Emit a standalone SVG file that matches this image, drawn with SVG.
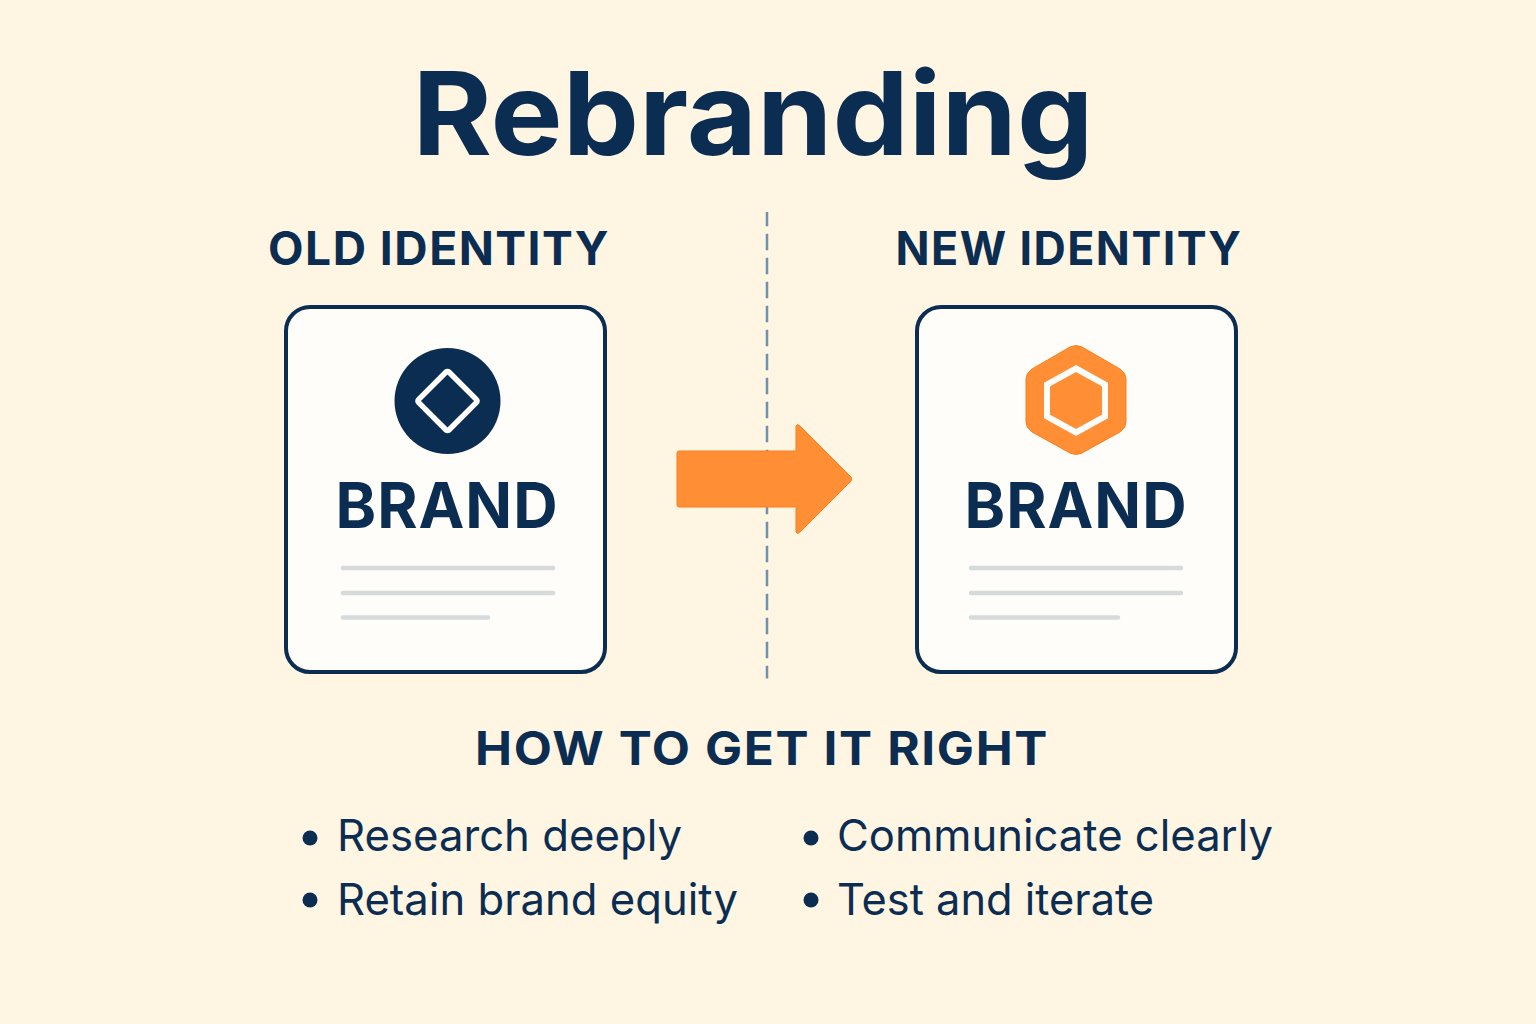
<svg xmlns="http://www.w3.org/2000/svg" width="1536" height="1024" viewBox="0 0 1536 1024">
<style>
text{font-family:Inter,"Noto Sans","Liberation Sans",sans-serif;fill:#0c2d52}
.title{font-size:116px;font-weight:700}
.head{font-size:46px;font-weight:700;letter-spacing:1.5px}
.brand{font-size:63px;font-weight:700;letter-spacing:1px}
.item{font-size:44px;font-weight:400}
.card{fill:#fffdf9;stroke:#0c2d52;stroke-width:4}
.ln{stroke:#d5dadb;stroke-width:4.5;stroke-linecap:round}
.dot{fill:#0c2d52}
</style>
<rect id="background" width="1536" height="1024" fill="#fff5e3"/>
<text id="title" class="title" x="753" y="155" text-anchor="middle" textLength="681" lengthAdjust="spacingAndGlyphs">Rebranding</text>
<g id="connectors">
<line id="divider" x1="767" y1="212" x2="767" y2="678.500" stroke="#7290b0" stroke-width="2.500" stroke-dasharray="16.500 7.500" stroke-dashoffset="2.300"/>
<path id="arrow" d="M679 451H796V426Q797 423 800 426L851 477Q852 479 851 481L800 532Q797 535 796 532V507H679Q677 507 677 505V453Q677 451 679 451Z" fill="#ff8e34" stroke="#fb7f1e" stroke-width="1"/>
</g>
<g id="old-identity">
<text class="head" x="439" y="265" text-anchor="middle" textLength="342" lengthAdjust="spacingAndGlyphs">OLD IDENTITY</text>
<rect class="card" x="286" y="307" width="319" height="365" rx="24"/>
<circle cx="447.500" cy="401" r="53" fill="#0c2d52"/>
<rect x="426" y="379.500" width="43" height="43" rx="2" transform="rotate(45 447.500 401)" fill="none" stroke="#fffdf9" stroke-width="5.500"/>
<text class="brand" x="447" y="528" text-anchor="middle" textLength="223" lengthAdjust="spacingAndGlyphs">BRAND</text>
<line class="ln" x1="343" y1="568" x2="553" y2="568"/>
<line class="ln" x1="343" y1="593" x2="553" y2="593"/>
<line class="ln" x1="343" y1="617.500" x2="488" y2="617.500"/>
</g>
<g id="new-identity">
<text class="head" x="1069" y="265" text-anchor="middle" textLength="347" lengthAdjust="spacingAndGlyphs">NEW IDENTITY</text>
<rect class="card" x="917" y="307" width="319" height="365" rx="24"/>
<path d="M1070 347Q1076 344 1082 347L1120 369Q1126 373 1126 379V422Q1126 428 1120 432L1082 453Q1076 456 1070 453L1032 432Q1026 428 1026 422V379Q1026 373 1032 369Z" fill="#ff8e34" stroke="#fb7f1e" stroke-width="1"/>
<path d="M1076 368.500L1105 384.500V416.500L1076 432.500L1047 416.500V384.500Z" fill="#ff8e34" stroke="#fffdf9" stroke-width="6"/>
<text class="brand" x="1076" y="528" text-anchor="middle" textLength="223" lengthAdjust="spacingAndGlyphs">BRAND</text>
<line class="ln" x1="971" y1="568" x2="1181" y2="568"/>
<line class="ln" x1="971" y1="593" x2="1181" y2="593"/>
<line class="ln" x1="971" y1="617.500" x2="1118" y2="617.500"/>
</g>
<g id="tips">
<text class="head" x="762" y="765" text-anchor="middle" textLength="574" lengthAdjust="spacingAndGlyphs">HOW TO GET IT RIGHT</text>
<circle class="dot" cx="310" cy="838" r="7.500"/>
<text class="item" x="337" y="851" textLength="345" lengthAdjust="spacingAndGlyphs">Research deeply</text>
<circle class="dot" cx="310" cy="900" r="7.500"/>
<text class="item" x="337" y="915" textLength="401" lengthAdjust="spacingAndGlyphs">Retain brand equity</text>
<circle class="dot" cx="811" cy="838" r="7.500"/>
<text class="item" x="837" y="851" textLength="436" lengthAdjust="spacingAndGlyphs">Communicate clearly</text>
<circle class="dot" cx="811" cy="900" r="7.500"/>
<text class="item" x="837" y="915" textLength="317" lengthAdjust="spacingAndGlyphs">Test and iterate</text>
</g>
</svg>
